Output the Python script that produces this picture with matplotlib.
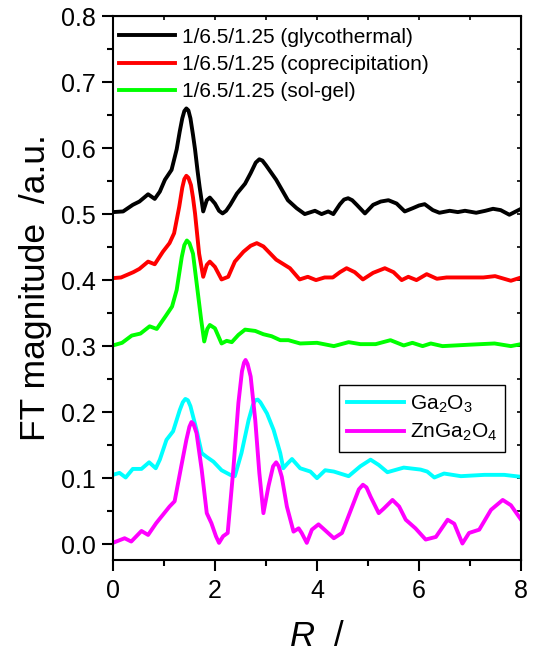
import numpy as np
import matplotlib.pyplot as plt

plt.rcParams['font.family'] = ['Liberation Sans', 'DejaVu Sans']
plt.rcParams['mathtext.fontset'] = 'custom'
plt.rcParams['mathtext.rm'] = 'Liberation Sans'
plt.rcParams['mathtext.it'] = 'Liberation Sans:italic'

# 1/6.5/1.25 (glycothermal)
r_gly = [0, 0.2, 0.39, 0.52, 0.69, 0.82, 0.92, 1.02, 1.15, 1.25, 1.31, 1.36, 1.40, 1.44, 1.48, 1.52,
         1.57, 1.61, 1.66, 1.70, 1.77, 1.84, 1.90, 2.0, 2.08, 2.15, 2.22, 2.30, 2.43, 2.59, 2.70,
         2.80, 2.87, 2.93, 3.0, 3.2, 3.43, 3.6, 3.76, 3.96, 4.09, 4.22, 4.32, 4.45, 4.53, 4.61, 4.69,
         4.78, 4.94, 5.1, 5.25, 5.4, 5.56, 5.72, 5.88, 6.0, 6.11, 6.27, 6.4, 6.6, 6.76, 6.9, 7.12,
         7.3, 7.45, 7.6, 7.77, 8.0]
ft_gly = [0.503, 0.504, 0.514, 0.519, 0.530, 0.523, 0.534, 0.552, 0.567, 0.598, 0.625, 0.645, 0.656,
          0.660, 0.657, 0.645, 0.620, 0.598, 0.565, 0.541, 0.504, 0.521, 0.525, 0.516, 0.505, 0.501,
          0.505, 0.514, 0.531, 0.546, 0.562, 0.578, 0.583, 0.581, 0.574, 0.552, 0.521, 0.509, 0.500,
          0.505, 0.500, 0.504, 0.500, 0.515, 0.522, 0.524, 0.521, 0.514, 0.501, 0.514, 0.519, 0.521,
          0.516, 0.504, 0.509, 0.513, 0.515, 0.506, 0.502, 0.505, 0.503, 0.505, 0.502, 0.505, 0.508,
          0.506, 0.499, 0.508]

# 1/6.5/1.25 (coprecipitation)
r_cop = [0, 0.16, 0.4, 0.52, 0.69, 0.82, 0.98, 1.11, 1.2, 1.3, 1.36, 1.40, 1.44, 1.48, 1.53, 1.57,
         1.61, 1.69, 1.77, 1.84, 1.9, 2.0, 2.13, 2.26, 2.39, 2.56, 2.70, 2.82, 2.95, 3.2, 3.47, 3.66,
         3.82, 3.98, 4.15, 4.31, 4.45, 4.58, 4.74, 4.9, 5.1, 5.33, 5.5, 5.66, 5.79, 5.95, 6.15, 6.35,
         6.54, 6.93, 7.26, 7.49, 7.8, 8.0]
ft_cop = [0.403, 0.404, 0.412, 0.417, 0.428, 0.424, 0.443, 0.456, 0.471, 0.511, 0.540, 0.553, 0.558,
          0.555, 0.544, 0.525, 0.501, 0.440, 0.405, 0.423, 0.428, 0.420, 0.401, 0.405, 0.428, 0.443,
          0.452, 0.456, 0.451, 0.431, 0.418, 0.401, 0.405, 0.400, 0.404, 0.404, 0.412, 0.418, 0.412,
          0.401, 0.411, 0.418, 0.412, 0.400, 0.405, 0.400, 0.409, 0.402, 0.404, 0.404, 0.404, 0.406,
          0.399, 0.404]

# 1/6.5/1.25 (sol-gel)
r_sol = [0, 0.18, 0.37, 0.54, 0.72, 0.86, 1.03, 1.16, 1.25, 1.31, 1.35, 1.40, 1.45, 1.50, 1.57,
         1.65, 1.73, 1.79, 1.85, 1.9, 2.0, 2.13, 2.23, 2.33, 2.46, 2.59, 2.79, 2.95, 3.11, 3.28,
         3.44, 3.67, 4.0, 4.33, 4.62, 4.85, 5.15, 5.44, 5.7, 5.87, 6.07, 6.23, 6.46, 6.95, 7.48, 7.8, 8.0]
ft_sol = [0.301, 0.305, 0.316, 0.319, 0.330, 0.326, 0.345, 0.360, 0.385, 0.415, 0.435, 0.453, 0.460,
          0.456, 0.440, 0.390, 0.340, 0.307, 0.326, 0.332, 0.327, 0.304, 0.308, 0.306, 0.317, 0.325,
          0.323, 0.318, 0.315, 0.309, 0.309, 0.304, 0.305, 0.300, 0.306, 0.303, 0.303, 0.309, 0.301,
          0.305, 0.300, 0.304, 0.300, 0.302, 0.304, 0.300, 0.303]

# Ga2O3
r_ga = [0, 0.13, 0.25, 0.39, 0.56, 0.71, 0.84, 0.92, 1.05, 1.18, 1.31, 1.37, 1.42, 1.47, 1.52, 1.64,
        1.74, 1.84, 1.97, 2.13, 2.30, 2.39, 2.52, 2.66, 2.74, 2.79, 2.84, 2.89, 3.02, 3.15, 3.28,
        3.34, 3.42, 3.51, 3.67, 3.87, 4.0, 4.16, 4.33, 4.62, 4.85, 5.05, 5.21, 5.38, 5.7, 6.03, 6.16,
        6.3, 6.49, 6.82, 7.28, 7.67, 8.0]
ft_ga = [0.105, 0.108, 0.101, 0.114, 0.114, 0.124, 0.115, 0.128, 0.158, 0.171, 0.203, 0.215, 0.220,
         0.218, 0.209, 0.173, 0.138, 0.132, 0.125, 0.112, 0.105, 0.103, 0.138, 0.188, 0.210, 0.218,
         0.219, 0.215, 0.198, 0.173, 0.138, 0.115, 0.122, 0.129, 0.115, 0.110, 0.100, 0.112, 0.110,
         0.103, 0.118, 0.128, 0.120, 0.109, 0.116, 0.113, 0.110, 0.101, 0.107, 0.103, 0.105, 0.105,
         0.102]

# ZnGa2O4
r_zn = [0, 0.23, 0.36, 0.56, 0.69, 0.85, 1.11, 1.21, 1.34, 1.44, 1.50, 1.54, 1.58, 1.64, 1.74, 1.84,
        1.93, 2.02, 2.08, 2.16, 2.25, 2.36, 2.46, 2.53, 2.57, 2.6, 2.64, 2.7, 2.79, 2.87, 2.95, 3.05,
        3.14, 3.2, 3.25, 3.31, 3.41, 3.54, 3.64, 3.70, 3.80, 3.90, 4.03, 4.16, 4.33, 4.49, 4.69,
        4.82, 4.9, 4.97, 5.05, 5.21, 5.31, 5.48, 5.61, 5.74, 5.93, 6.13, 6.33, 6.56, 6.69, 6.85,
        6.98, 7.18, 7.41, 7.64, 7.8, 8.0]
ft_zn = [0.002, 0.009, 0.004, 0.020, 0.014, 0.032, 0.057, 0.065, 0.118, 0.158, 0.178, 0.185, 0.182,
         0.168, 0.113, 0.047, 0.032, 0.012, 0.002, 0.012, 0.017, 0.113, 0.214, 0.262, 0.275, 0.279,
         0.273, 0.254, 0.188, 0.108, 0.047, 0.088, 0.118, 0.124, 0.118, 0.102, 0.057, 0.019, 0.024,
         0.017, 0.002, 0.022, 0.030, 0.021, 0.009, 0.017, 0.057, 0.083, 0.090, 0.086, 0.072, 0.047,
         0.054, 0.067, 0.057, 0.037, 0.024, 0.007, 0.011, 0.037, 0.031, 0.001, 0.017, 0.022, 0.052,
         0.067, 0.059, 0.037]

fig = plt.figure(figsize=(5.35, 6.54), dpi=100)
ax = fig.add_axes([0.211, 0.1437, 0.763, 0.8318])

lw = 2.8
l1, = ax.plot(r_gly, ft_gly, color='black', lw=lw, solid_joinstyle='round')
l2, = ax.plot(r_cop, ft_cop, color='#ff0000', lw=lw, solid_joinstyle='round')
l3, = ax.plot(r_sol, ft_sol, color='#00ff00', lw=lw, solid_joinstyle='round')
l4, = ax.plot(r_ga, ft_ga, color='#00ffff', lw=lw, solid_joinstyle='round')
l5, = ax.plot(r_zn, ft_zn, color='#ff00ff', lw=lw, solid_joinstyle='round')

ax.set_xlim(0, 8)
ax.set_ylim(-0.024, 0.8)
ax.set_xticks([0, 2, 4, 6, 8])
ax.set_xticks([1, 3, 5, 7], minor=True)
ax.set_yticks(np.arange(0, 0.81, 0.1))
ax.set_yticks(np.arange(0.05, 0.8, 0.1), minor=True)
ax.set_yticklabels(['%.1f' % v for v in np.arange(0, 0.81, 0.1)])

for s in ax.spines.values():
    s.set_linewidth(1.5)
ax.tick_params(which='major', direction='out', length=8, width=1.5, labelsize=18, pad=4)
ax.tick_params(axis='x', which='major', pad=6)
ax.tick_params(which='minor', direction='out', length=4.5, width=1.5)

# top/right axes with small inward ticks
top = ax.secondary_xaxis('top')
top.set_xticks([1, 2, 3, 4, 5, 6, 7])
top.tick_params(direction='in', length=3, width=1.2, labeltop=False)
right = ax.secondary_yaxis('right')
right.set_yticks(np.arange(0.05, 0.8, 0.05))
right.tick_params(direction='in', length=3, width=1.2, labelright=False)

ax.set_ylabel('FT magnitude  /a.u.', fontsize=25.5, labelpad=7)
ax.set_xlabel('$\\mathit{R}$  /', fontsize=25, labelpad=12)

leg1 = ax.legend([l1, l2, l3],
                 ['1/6.5/1.25 (glycothermal)', '1/6.5/1.25 (coprecipitation)', '1/6.5/1.25 (sol-gel)'],
                 loc='upper left', bbox_to_anchor=(0.0, 0.99), frameon=False, fontsize=15,
                 handlelength=2.7, handletextpad=0.3, labelspacing=0.4, borderpad=0.1,
                 borderaxespad=0.2)
ax.add_artist(leg1)
leg2 = ax.legend([l4, l5], ['Ga$_2$O$_3$', 'ZnGa$_2$O$_4$'],
                 loc='upper left', bbox_to_anchor=(0.554, 0.3217), borderaxespad=0, fontsize=15,
                 frameon=True, fancybox=False, edgecolor='black', framealpha=1,
                 handlelength=2.7, handletextpad=0.3, labelspacing=0.35)
leg2.get_frame().set_linewidth(1.0)

fig.savefig('out.png', dpi=100)
